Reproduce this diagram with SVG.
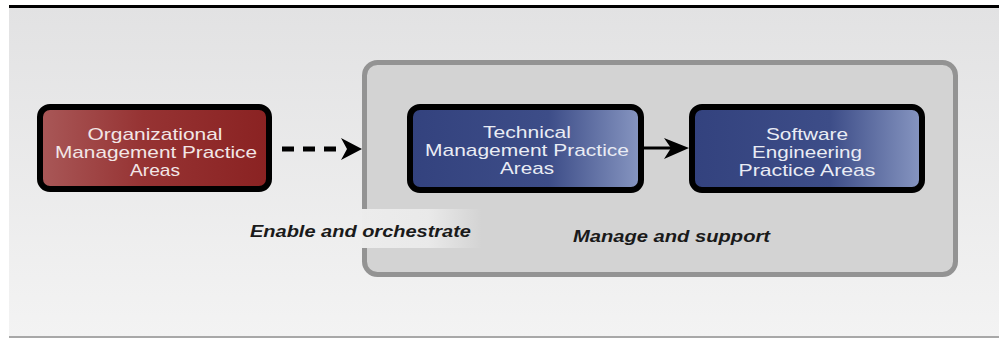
<svg xmlns="http://www.w3.org/2000/svg" width="999" height="339" viewBox="0 0 999 339">
<defs>
<linearGradient id="bg" x1="0" y1="0" x2="0" y2="1">
<stop offset="0" stop-color="#e2e2e3"/>
<stop offset="1" stop-color="#f3f3f3"/>
</linearGradient>
<linearGradient id="red" x1="0" y1="0" x2="1" y2="0">
<stop offset="0" stop-color="#a95858"/>
<stop offset="0.45" stop-color="#963333"/>
<stop offset="1" stop-color="#8a2222"/>
</linearGradient>
<linearGradient id="blue" x1="0" y1="0" x2="1" y2="0">
<stop offset="0" stop-color="#33427e"/>
<stop offset="0.6" stop-color="#3d4d88"/>
<stop offset="1" stop-color="#8796c1"/>
</linearGradient>
<linearGradient id="patch" x1="0" y1="0" x2="1" y2="0">
<stop offset="0" stop-color="#ececec" stop-opacity="1"/>
<stop offset="0.55" stop-color="#ececec" stop-opacity="0.9"/>
<stop offset="1" stop-color="#ececec" stop-opacity="0"/>
</linearGradient>
</defs>
<style>
.node{stroke:#000;stroke-width:6}
.nt{font-family:"Liberation Sans",Arial,sans-serif;font-size:17px;text-anchor:middle}
.rt{fill:#f2e6e6}
.bt{fill:#e9ecf4}
.lbl{font-family:"Liberation Sans",Arial,sans-serif;font-size:17px;font-weight:bold;font-style:italic;fill:#1a1a1a}
</style>
<rect x="9" y="7" width="990" height="330" fill="url(#bg)"/>
<rect x="9" y="5" width="990" height="3" fill="#000"/>
<rect x="9" y="336" width="990" height="2" fill="#a8a8a8"/>
<g id="container">
<rect x="364.5" y="62.5" width="591" height="212" rx="13" fill="#d3d3d3" stroke="#939393" stroke-width="5"/>
<rect x="362" y="209" width="120" height="39" fill="url(#patch)"/>
</g>
<g id="connectors">
<line x1="282" y1="149" x2="344" y2="149" stroke="#000" stroke-width="5" stroke-dasharray="12 9"/>
<path d="M362,149 L341,138 L347,149 L341,160 Z" fill="#000"/>
<line x1="643" y1="148" x2="674" y2="148" stroke="#000" stroke-width="3"/>
<path d="M689,148 L664,138 L671,148 L664,159 Z" fill="#000"/>
</g>
<g id="org">
<rect class="node" x="40" y="107" width="229" height="82" rx="10" fill="url(#red)"/>
<text class="nt rt" x="155" y="140" textLength="135" lengthAdjust="spacingAndGlyphs">Organizational</text>
<text class="nt rt" x="156" y="158" textLength="202" lengthAdjust="spacingAndGlyphs">Management Practice</text>
<text class="nt rt" x="155" y="176" textLength="50" lengthAdjust="spacingAndGlyphs">Areas</text>
</g>
<g id="tech">
<rect class="node" x="410" y="107" width="231" height="83" rx="10" fill="url(#blue)"/>
<text class="nt bt" x="527" y="138" textLength="88" lengthAdjust="spacingAndGlyphs">Technical</text>
<text class="nt bt" x="527" y="156" textLength="204" lengthAdjust="spacingAndGlyphs">Management Practice</text>
<text class="nt bt" x="527" y="174" textLength="54" lengthAdjust="spacingAndGlyphs">Areas</text>
</g>
<g id="sw">
<rect class="node" x="692" y="107" width="230" height="83" rx="10" fill="url(#blue)"/>
<text class="nt bt" x="807" y="140" textLength="82" lengthAdjust="spacingAndGlyphs">Software</text>
<text class="nt bt" x="807" y="158" textLength="110" lengthAdjust="spacingAndGlyphs">Engineering</text>
<text class="nt bt" x="807" y="176" textLength="137" lengthAdjust="spacingAndGlyphs">Practice Areas</text>
</g>
<g id="labels">
<text class="lbl" x="250" y="237" textLength="221" lengthAdjust="spacingAndGlyphs">Enable and orchestrate</text>
<text class="lbl" x="573" y="242" textLength="197" lengthAdjust="spacingAndGlyphs">Manage and support</text>
</g>
</svg>
